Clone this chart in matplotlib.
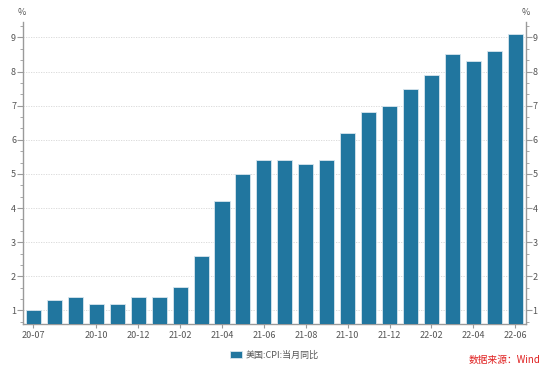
import numpy as np
import matplotlib.pyplot as plt
from matplotlib.ticker import FixedLocator, MultipleLocator

plt.rcParams["font.family"] = ["Noto Sans CJK SC", "DejaVu Sans"]

# 美国 CPI 当月同比 (%)
MONTHS = [
    "20-07", "20-08", "20-09", "20-10", "20-11", "20-12",
    "21-01", "21-02", "21-03", "21-04", "21-05", "21-06",
    "21-07", "21-08", "21-09", "21-10", "21-11", "21-12",
    "22-01", "22-02", "22-03", "22-04", "22-05", "22-06",
]
CPI_YOY = [
    1.0, 1.3, 1.4, 1.2, 1.2, 1.4,
    1.4, 1.7, 2.6, 4.2, 5.0, 5.4,
    5.4, 5.3, 5.4, 6.2, 6.8, 7.0,
    7.5, 7.9, 8.5, 8.3, 8.6, 9.1,
]
LABELED = ["20-07", "20-10", "20-12", "21-02", "21-04", "21-06", "21-08",
           "21-10", "21-12", "22-02", "22-04", "22-06"]
Y_TICKS = [1, 2, 3, 4, 5, 6, 7, 8, 9]

BAR_COLOR = "#21769f"
AXIS_COLOR = "#9a9a9a"
TEXT_COLOR = "#555555"

fig = plt.figure(figsize=(5.54, 3.67), dpi=100)
ax = fig.add_axes([0.0415, 0.117, 0.9075, 0.823])

x = np.arange(len(MONTHS))
ax.bar(x, CPI_YOY, width=0.72, color=BAR_COLOR, edgecolor="#d8e6ee",
       linewidth=0.6, zorder=3)

ax.set_xlim(-0.5, len(MONTHS) - 0.5)
ax.set_ylim(0.6, 9.45)

# x 轴
pos = [MONTHS.index(m) for m in LABELED]
ax.set_xticks(pos)
ax.set_xticklabels(LABELED, fontsize=6.5, color=TEXT_COLOR)
ax.tick_params(axis="x", length=3, color=AXIS_COLOR, pad=2)

# y 轴 (左右两侧)
ax.yaxis.set_major_locator(FixedLocator(Y_TICKS))
ax.yaxis.set_minor_locator(MultipleLocator(1 / 3))
ax.tick_params(axis="y", which="major", length=4, color=AXIS_COLOR,
               labelsize=6.5, labelcolor=TEXT_COLOR, pad=1,
               left=True, right=True, labelleft=True, labelright=True)
ax.tick_params(axis="y", which="minor", length=2.5, color=AXIS_COLOR,
               left=True, right=True)
ax.grid(axis="y", which="major", linestyle=(0, (1.5, 1.5)),
        color="#d6d6d6", linewidth=0.6, zorder=0)

for side in ["left", "right", "bottom"]:
    ax.spines[side].set_color(AXIS_COLOR)
    ax.spines[side].set_linewidth(1.0)
ax.spines["top"].set_visible(False)

fig.text(0.04, 0.965, "%", fontsize=6.5, color=TEXT_COLOR, ha="center", va="center")
fig.text(0.95, 0.965, "%", fontsize=6.5, color=TEXT_COLOR, ha="center", va="center")

# 图例
ax.legend(["美国:CPI:当月同比"], loc="upper center", bbox_to_anchor=(0.5, -0.06),
          frameon=False, fontsize=6.5, handlelength=1.4, handleheight=0.8,
          labelcolor=TEXT_COLOR, handletextpad=0.4)

fig.text(0.975, 0.005, "数据来源：Wind", fontsize=7, color="#e02020",
         ha="right", va="bottom")

fig.savefig("out.png", dpi=100, facecolor="white")
